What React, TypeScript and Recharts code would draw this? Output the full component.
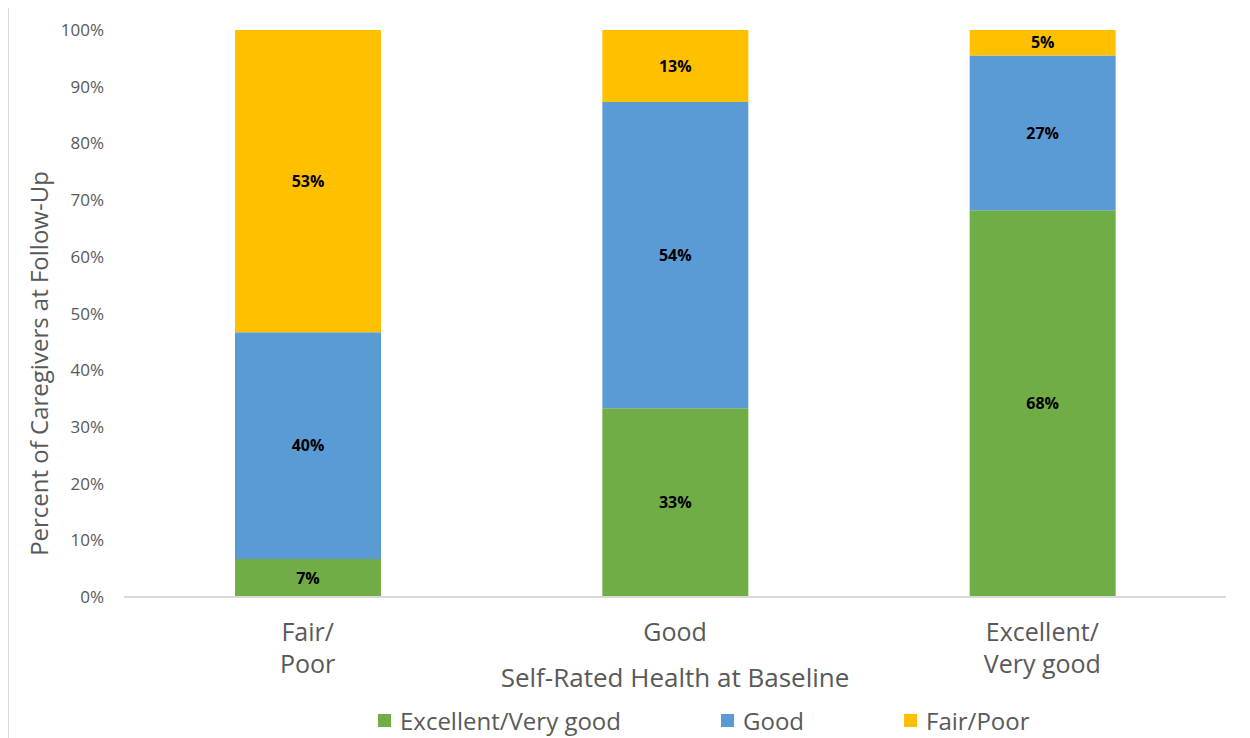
import { BarChart, Bar, XAxis, YAxis, Legend, LabelList } from 'recharts';

const categories = ['Fair/\nPoor', 'Good', 'Excellent/\nVery good'];
const excellentVeryGood = [6.7, 33.3, 68.2];
const good = [40.0, 54.0, 27.3];
const fairPoor = [53.3, 12.7, 4.5];
const yTicks = [0, 10, 20, 30, 40, 50, 60, 70, 80, 90, 100];

const series = [
  { key: 'excellent', name: 'Excellent/Very good', color: '#70AD47' },
  { key: 'good', name: 'Good', color: '#5B9BD5' },
  { key: 'fair', name: 'Fair/Poor', color: '#FFC000' },
];

const data = categories.map((c, i) => ({
  category: c,
  excellent: excellentVeryGood[i],
  good: good[i],
  fair: fairPoor[i],
}));

const FONT = '"Open Sans", sans-serif';
const GREY = '#595959';

function CategoryTick({ x, y, payload }: any) {
  const lines = String(payload.value).split('\n');
  return (
    <text x={x} y={y} textAnchor="middle" fill={GREY} fontSize={25} fontFamily={FONT}>
      {lines.map((l, i) => (
        <tspan key={i} x={x} dy={i === 0 ? 44 : 32}>
          {l}
        </tspan>
      ))}
    </text>
  );
}

const itemWidths = [343, 183, 140];

function LegendBox() {
  return (
    <div style={{ display: 'flex', height: 36, alignItems: 'center', paddingLeft: 369, fontFamily: FONT }}>
      {series.map((s, i) => (
        <div key={s.key} style={{ display: 'flex', alignItems: 'center', width: itemWidths[i] }}>
          <span style={{ width: 13, height: 13, background: s.color, marginRight: 9 }} />
          <span style={{ fontSize: 24, color: GREY }}>{s.name}</span>
        </div>
      ))}
    </div>
  );
}

export default function App() {
  return (
    <div style={{ marginTop: -2, width: 1250, height: 740, borderTop: '1px solid #d9d9d9', borderLeft: '1px solid #d9d9d9' }}>
      <BarChart width={1241} height={731} data={data} margin={{ top: 23, right: 24, left: 0, bottom: 0 }}>
        <XAxis
          dataKey="category"
          height={105}
          tickLine={false}
          tickSize={0}
          tickMargin={0}
          axisLine={{ stroke: '#d9d9d9', strokeWidth: 2 }}
          tick={<CategoryTick />}
          interval={0}
          label={({ viewBox }: any) => (
            <text
              x={viewBox.x + viewBox.width / 2}
              y={viewBox.y + 90}
              textAnchor="middle"
              fill={GREY}
              fontSize={26}
              fontFamily={FONT}
            >
              Self-Rated Health at Baseline
            </text>
          )}
        />
        <YAxis
          width={115}
          domain={[0, 100]}
          ticks={yTicks}
          tickFormatter={(v) => `${v}%`}
          axisLine={false}
          tickLine={false}
          tickSize={0}
          tickMargin={20}
          tick={{ fill: GREY, fontSize: 17, fontFamily: FONT }}
          label={({ viewBox }: any) => (
            <text
              x={viewBox.x + 29}
              y={viewBox.y + viewBox.height / 2 + 50}
              textAnchor="middle"
              dominantBaseline="central"
              transform={`rotate(-90, ${viewBox.x + 29}, ${viewBox.y + viewBox.height / 2 + 50})`}
              fill={GREY}
              fontSize={24}
              fontFamily={FONT}
            >
              Percent of Caregivers at Follow-Up
            </text>
          )}
        />
        <Legend verticalAlign="bottom" height={36} content={<LegendBox />} />
        {series.map((s) => (
          <Bar key={s.key} dataKey={s.key} name={s.name} stackId="a" fill={s.color} barSize={146} isAnimationActive={false}>
            <LabelList
              dataKey={s.key}
              position="center"
              formatter={(v: any) => `${Math.round(Number(v))}%`}
              fill="#000"
              fontSize={16}
              fontWeight="bold"
              fontFamily={FONT}
            />
          </Bar>
        ))}
      </BarChart>
    </div>
  );
}
